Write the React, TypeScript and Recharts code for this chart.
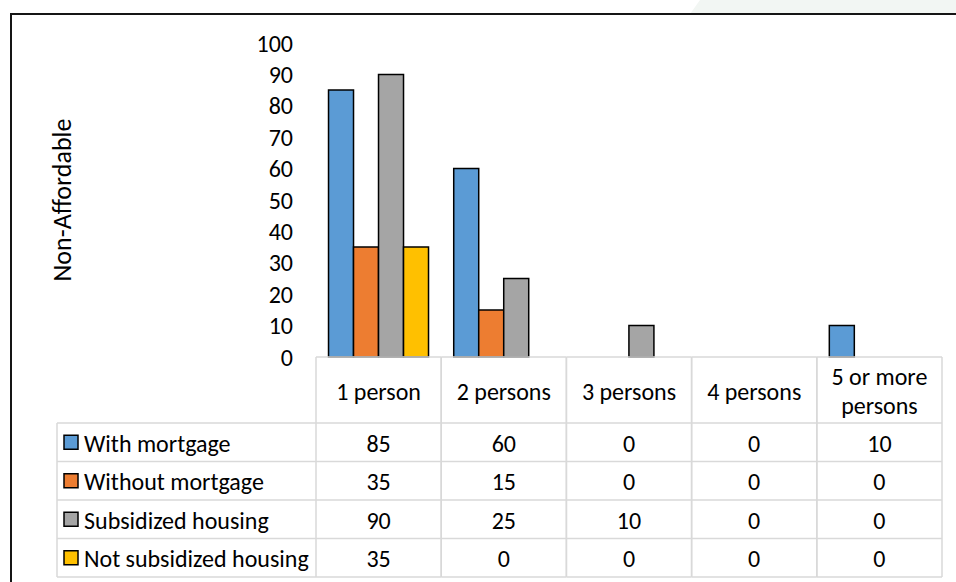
import React from 'react';
import { BarChart, Bar, XAxis, YAxis } from 'recharts';

// categories along the x axis (\n marks where the table header wraps)
const categories = ['1 person', '2 persons', '3 persons', '4 persons', '5 or more\npersons'];

const withMortgage = [85, 60, 0, 0, 10];
const withoutMortgage = [35, 15, 0, 0, 0];
const subsidizedHousing = [90, 25, 10, 0, 0];
const notSubsidizedHousing = [35, 0, 0, 0, 0];

const yTicks = [0, 10, 20, 30, 40, 50, 60, 70, 80, 90, 100];

const series = [
  { key: 'withMortgage', name: 'With mortgage', values: withMortgage, color: '#5B9BD5' },
  { key: 'withoutMortgage', name: 'Without mortgage', values: withoutMortgage, color: '#ED7D31' },
  { key: 'subsidizedHousing', name: 'Subsidized housing', values: subsidizedHousing, color: '#A5A5A5' },
  { key: 'notSubsidizedHousing', name: 'Not subsidized housing', values: notSubsidizedHousing, color: '#FFC000' },
];

const data = categories.map((name, i) => {
  const row: Record<string, string | number> = { name };
  series.forEach((s) => {
    row[s.key] = s.values[i];
  });
  return row;
});

const W = 956;
const H = 582;
const FONT = 'Calibri, Carlito, Lato, sans-serif';
const FONT_SIZE = 24;
const TEXT = '#000';
const GRID = '#D9D9D9';

// layout of the plot + data table
const PLOT_LEFT = 316;
const PLOT_RIGHT = 942;
const PLOT_TOP = 43;
const PLOT_BOTTOM = 357;
const HEADER_H = 66;
const ROW_H = 38.5;
const LEGEND_LEFT = 57;
const Y_AXIS_W = 60;

const TableColumn = (props: any) => {
  const { x, y, index } = props;
  const bw = (PLOT_RIGHT - PLOT_LEFT) / categories.length;
  const left = x - bw / 2;
  const right = x + bw / 2;
  const bottom = y + HEADER_H + ROW_H * series.length;
  const lines = categories[index].split('\n');
  const lh = 29;
  const headerMid = y + HEADER_H / 2 + 1;

  return (
    <g>
      <line x1={left} x2={right} y1={y} y2={y} stroke={GRID} strokeWidth={1.5} />
      <line x1={left} x2={left} y1={y} y2={bottom} stroke={GRID} strokeWidth={1.5} />
      <line x1={right} x2={right} y1={y} y2={bottom} stroke={GRID} strokeWidth={1.5} />
      {lines.map((t, k) => (
        <text
          key={k}
          x={x}
          y={headerMid + (k - (lines.length - 1) / 2) * lh}
          textAnchor="middle"
          dominantBaseline="central"
          fontFamily={FONT}
          fontSize={FONT_SIZE}
          fill={TEXT}
        >
          {t}
        </text>
      ))}
      {series.map((s, r) => {
        const top = y + HEADER_H + r * ROW_H;
        return (
          <g key={s.key}>
            <line x1={index === 0 ? LEGEND_LEFT : left} x2={right} y1={top} y2={top} stroke={GRID} strokeWidth={1.5} />
            <text
              x={x}
              y={top + ROW_H / 2 + 1}
              textAnchor="middle"
              dominantBaseline="central"
              fontFamily={FONT}
              fontSize={FONT_SIZE}
              fill={TEXT}
            >
              {s.values[index]}
            </text>
            {index === 0 && (
              <g>
                <rect x={64} y={top + ROW_H / 2 - 7} width={14} height={14} fill={s.color} stroke="#000" strokeWidth={1.5} />
                <text
                  x={84}
                  y={top + ROW_H / 2 + 1}
                  dominantBaseline="central"
                  fontFamily={FONT}
                  fontSize={FONT_SIZE}
                  fill={TEXT}
                >
                  {s.name}
                </text>
              </g>
            )}
          </g>
        );
      })}
      <line x1={index === 0 ? LEGEND_LEFT : left} x2={right} y1={bottom} y2={bottom} stroke={GRID} strokeWidth={1.5} />
      {index === 0 && (
        <line x1={LEGEND_LEFT} x2={LEGEND_LEFT} y1={y + HEADER_H} y2={bottom} stroke={GRID} strokeWidth={1.5} />
      )}
    </g>
  );
};

const AxisTitle = () => (
  <text
    transform="translate(62,200) rotate(-90)"
    textAnchor="middle"
    dominantBaseline="central"
    fontFamily={FONT}
    fontSize={26}
    fill={TEXT}
  >
    Non-Affordable
  </text>
);

export default function App() {
  return (
    <div style={{ position: 'absolute', left: 0, top: 0, width: W, height: H, overflow: 'hidden', background: '#fff' }}>
      <div
        style={{
          position: 'absolute',
          left: 690,
          top: 0,
          width: 300,
          height: 14,
          background: '#F2F6F3',
          clipPath: 'polygon(10px 0, 100% 0, 100% 100%, 0 100%)',
        }}
      />
      <div
        style={{
          position: 'absolute',
          left: 10,
          top: 13,
          width: 1200,
          height: 1000,
          border: '2px solid #151515',
        }}
      />
      <div style={{ position: 'absolute', left: 0, top: 0 }}>
        <BarChart
          width={W}
          height={H}
          data={data}
          barCategoryGap="10%"
          barGap={0}
          margin={{ top: PLOT_TOP, right: W - PLOT_RIGHT, bottom: 5, left: PLOT_LEFT - Y_AXIS_W }}
        >
          <XAxis
            dataKey="name"
            height={H - PLOT_BOTTOM - 5}
            axisLine={false}
            tickLine={false}
            tickSize={0}
            tickMargin={0}
            interval={0}
            tick={<TableColumn />}
          />
          <YAxis
            width={Y_AXIS_W}
            domain={[0, 100]}
            ticks={yTicks}
            interval={0}
            axisLine={false}
            tickLine={false}
            tickMargin={17}
            tick={{ fontFamily: FONT, fontSize: FONT_SIZE, fill: TEXT }}
            label={{ content: () => <AxisTitle /> }}
          />
          {series.map((s) => (
            <Bar
              key={s.key}
              dataKey={s.key}
              name={s.name}
              fill={s.color}
              stroke="#000"
              strokeWidth={1.5}
              isAnimationActive={false}
            />
          ))}
        </BarChart>
      </div>
    </div>
  );
}
